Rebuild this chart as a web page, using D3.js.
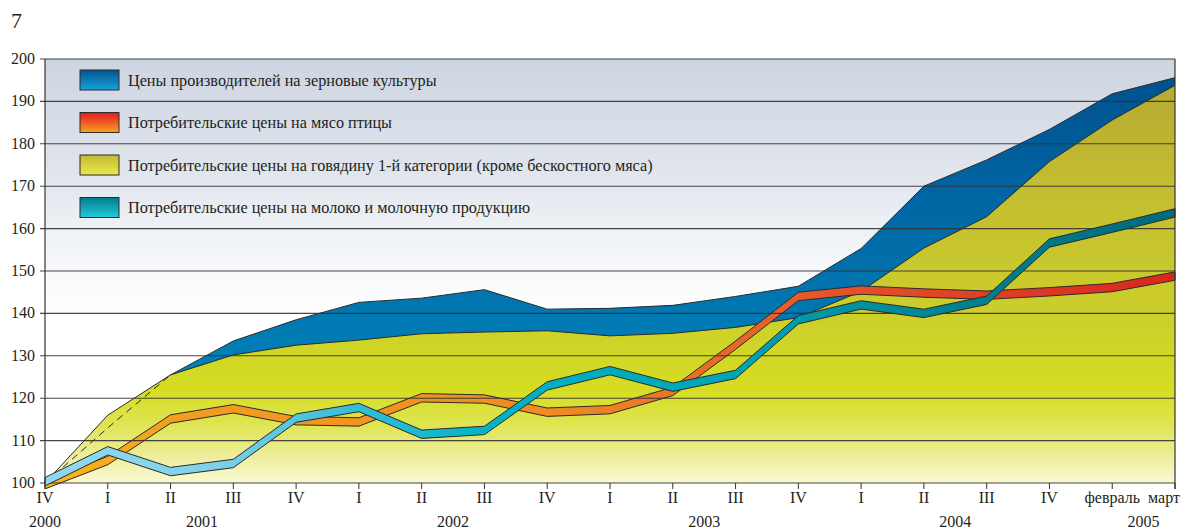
<!DOCTYPE html>
<html><head><meta charset="utf-8">
<script src="https://cdn.jsdelivr.net/npm/d3@7/dist/d3.min.js"></script>
<style>
html,body{margin:0;padding:0;background:#fff;}
svg text{font-family:"Liberation Serif","DejaVu Serif",serif;fill:#231f20;}
</style></head>
<body><svg id="c" width="1183" height="531"></svg>
<script>
// ---- data ----
const periods = ["IV","I","II","III","IV","I","II","III","IV","I","II","III","IV","I","II","III","IV","февраль","март"];
const years   = ["2000","2001","2001","2001","2001","2002","2002","2002","2002","2003","2003","2003","2003","2004","2004","2004","2004","2005","2005"];
const grain   = [100,113,125.5,133.5,138.5,142.6,143.6,145.6,141,141.2,141.9,144,146.4,155.3,170,176.2,183.4,191.8,195.6];
const beef    = [100,116,125.5,130.2,132.5,133.7,135.2,135.6,135.9,134.7,135.3,136.7,139,145.2,155.4,162.8,175.8,185.6,193.8];
const poultry = [99.6,105.3,115.1,117.5,114.7,114.4,120.1,119.8,116.7,117.3,121.6,132.5,144,145.5,144.8,144.3,145.1,146.1,148.8];
const milk    = [100.3,107.6,102.7,104.6,115.3,117.8,111.5,112.4,122.9,126.5,122.6,125.6,138.5,142,140,143.1,156.6,160.1,163.7];
const yTicks  = [100,110,120,130,140,150,160,170,180,190,200];
const legendLabels = [
  "Цены производителей на зерновые культуры",
  "Потребительские цены на мясо птицы",
  "Потребительские цены на говядину 1-й категории (кроме бескостного мяса)",
  "Потребительские цены на молоко и молочную продукцию"
];
const pageNumber = "7";

// ---- layout ----
const svg = d3.select("#c");
const L = 45, R = 1175, T = 59, B = 483;
const idx = d3.range(periods.length);
const x = d3.scalePoint().domain(idx).range([L, R]);
const y = d3.scaleLinear().domain([100, 200]).range([B, T]);

const defs = svg.append("defs");
function grad(id, x1, y1, x2, y2, stops, user) {
  const g = defs.append("linearGradient").attr("id", id)
    .attr("x1", x1).attr("y1", y1).attr("x2", x2).attr("y2", y2);
  if (user) g.attr("gradientUnits", "userSpaceOnUse");
  stops.forEach(s => g.append("stop").attr("offset", s[0]).attr("stop-color", s[1]));
}
grad("bg", 0, T, 0, B, [[0, "#cdd5e1"], [0.25, "#dfe4ec"], [0.45, "#f3f5f8"], [0.6, "#ffffff"], [1, "#ffffff"]], true);
grad("gBlue", 0, y(200), 0, y(125), [[0, "#004e8a"], [0.4, "#0064a2"], [1, "#0082b9"]], true);
grad("gBeef", 0, y(200), 0, y(100), [[0, "#b3a534"], [0.3, "#c3bd30"], [0.6, "#ccce2b"], [0.78, "#d5dd22"], [0.86, "#dfe450"], [0.94, "#eeee9e"], [1, "#fbf9d4"]], true);
grad("gPoul", L, 0, R, 0, [[0, "#f9b81a"], [0.12, "#f39d20"], [0.45, "#ee8b22"], [0.6, "#e8692a"], [0.72, "#e3502a"], [1, "#d9261f"]], true);
grad("gMilk", L, 0, R, 0, [[0, "#92d9ef"], [0.15, "#7fd1e8"], [0.27, "#36bdd6"], [0.4, "#00b2c6"], [0.6, "#00a5b7"], [0.72, "#00909f"], [0.85, "#007c8b"], [1, "#006b7c"]], true);
grad("sBlue", 0, 0, 0, 1, [[0, "#00558f"], [1, "#1aa2da"]]);
grad("sPoul", 0, 0, 0, 1, [[0, "#e01b22"], [0.5, "#f05a22"], [1, "#f8a41e"]]);
grad("sBeef", 0, 0, 0, 1, [[0, "#c2b934"], [1, "#eaea4a"]]);
grad("sMilk", 0, 0, 0, 1, [[0, "#007c8c"], [1, "#22cbdb"]]);

// background
svg.append("rect").attr("x", L).attr("y", T).attr("width", R - L).attr("height", B - T).attr("fill", "url(#bg)");

// areas
const area = d3.area().x((d, i) => x(i)).y0(y(100)).y1(d => y(d));
const line = d3.line().x((d, i) => x(i)).y(d => y(d));
svg.append("path").datum(grain).attr("d", area).attr("fill", "url(#gBlue)");
svg.append("path").datum(grain).attr("d", line).attr("fill", "none").attr("stroke", "#2a2a2a").attr("stroke-width", 1);
svg.append("path").datum(beef).attr("d", area).attr("fill", "url(#gBeef)");
svg.append("path").datum(beef).attr("d", line).attr("fill", "none").attr("stroke", "#2a2a2a").attr("stroke-width", 1);

// hidden grain segments (below beef) dashed
const hidden = d3.line().defined((d, i) => grain[i] <= beef[i]).x((d, i) => x(i)).y(d => y(d));
svg.append("path").datum(grain).attr("d", hidden).attr("fill", "none")
  .attr("stroke", "#2a2a2a").attr("stroke-width", 1).attr("stroke-dasharray", "7,5");

// ribbons
const H = 4.2;
const ribbon = d3.area().x((d, i) => x(i)).y0(d => y(d) + H).y1(d => y(d) - H);
svg.append("path").datum(poultry).attr("d", ribbon).attr("fill", "url(#gPoul)")
  .attr("stroke", "#2b2b2b").attr("stroke-width", 1).attr("stroke-linejoin", "miter");

// gridlines
svg.append("g").selectAll("line").data(yTicks).join("line")
  .attr("x1", L - 5).attr("x2", R).attr("y1", d => y(d)).attr("y2", d => y(d))
  .attr("stroke", "#333").attr("stroke-width", 1.1).attr("opacity", 0.9);

svg.append("path").datum(milk).attr("d", ribbon).attr("fill", "url(#gMilk)")
  .attr("stroke", "#2b2b2b").attr("stroke-width", 1).attr("stroke-linejoin", "miter");

// frame
svg.append("line").attr("x1", L).attr("x2", L).attr("y1", T).attr("y2", B).attr("stroke", "#333").attr("stroke-width", 1.2);
svg.append("line").attr("x1", R).attr("x2", R).attr("y1", T).attr("y2", B + 6).attr("stroke", "#333").attr("stroke-width", 1.2);

// y labels
svg.append("g").selectAll("text").data(yTicks).join("text")
  .attr("x", 35).attr("y", d => y(d) + 5).attr("text-anchor", "end")
  .attr("font-size", 16).text(d => d);

// x ticks & labels
const last = idx.length - 1;
svg.append("g").selectAll("line").data(idx).join("line")
  .attr("x1", i => x(i)).attr("x2", i => x(i)).attr("y1", B).attr("y2", B + 6)
  .attr("stroke", "#333").attr("stroke-width", 1);
svg.append("g").selectAll("text").data(idx).join("text")
  .attr("x", i => i === last ? x(i) + 5 : x(i)).attr("y", 503)
  .attr("text-anchor", i => i === last ? "end" : "middle")
  .attr("font-size", 16).text(i => periods[i]);
const yearGroups = d3.groups(idx, i => years[i]);
svg.append("g").selectAll("text").data(yearGroups).join("text")
  .attr("x", g => d3.mean(g[1], i => x(i))).attr("y", 527).attr("text-anchor", "middle")
  .attr("font-size", 16).text(g => g[0]);

// page number
svg.append("text").attr("x", 11).attr("y", 28).attr("font-size", 22).text(pageNumber);

// legend
const sw = ["url(#sBlue)", "url(#sPoul)", "url(#sBeef)", "url(#sMilk)"];
const lg = svg.append("g").selectAll("g").data(legendLabels).join("g")
  .attr("transform", (d, i) => `translate(80,${70 + i * 42.5})`);
lg.append("rect").attr("width", 39).attr("height", 20).attr("fill", (d, i) => sw[i])
  .attr("stroke", "#2b2b2b").attr("stroke-width", 1);
lg.append("text").attr("x", 48).attr("y", 15.5).attr("font-size", 16.2).text(d => d);
</script></body></html>
